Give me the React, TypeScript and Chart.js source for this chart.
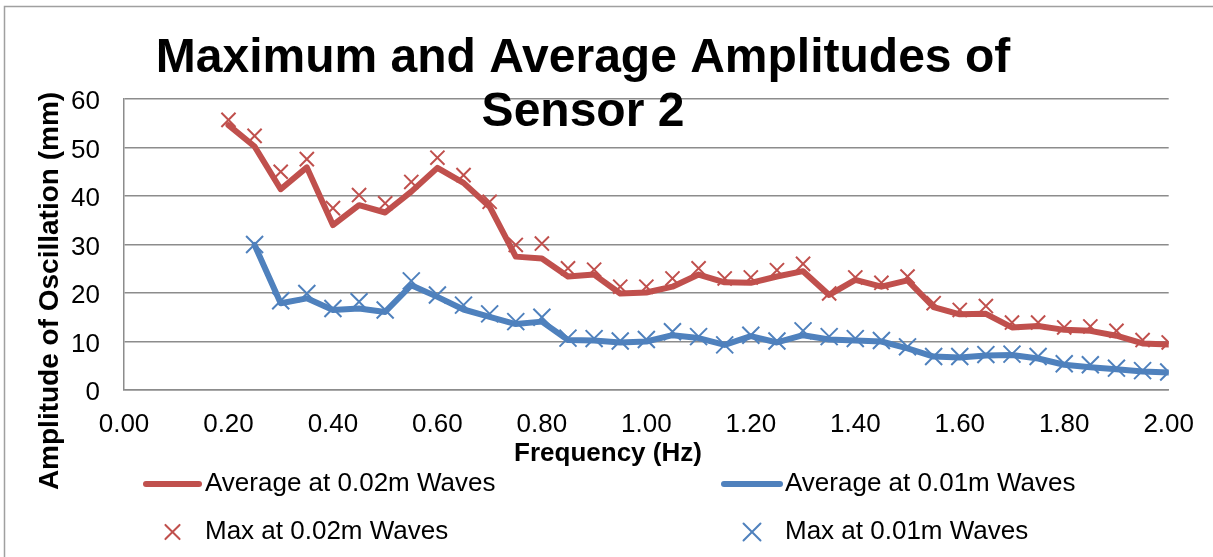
import React, { useEffect, useRef } from "react";
import { Chart, registerables } from "chart.js";

Chart.register(...registerables);

const FONT = "'Liberation Sans', Arial, Helvetica, sans-serif";

const titleLines = ["Maximum and Average Amplitudes of", "Sensor 2"];
const xTitle = "Frequency (Hz)";
const yTitle = "Amplitude of Oscillation (mm)";

const seriesNames = [
  "Average at 0.02m Waves",
  "Average at 0.01m Waves",
  "Max at 0.02m Waves",
  "Max at 0.01m Waves",
];

const freq002 = [
  0.2, 0.25, 0.3, 0.35, 0.4, 0.45, 0.5, 0.55, 0.6, 0.65, 0.7, 0.75, 0.8, 0.85,
  0.9, 0.95, 1.0, 1.05, 1.1, 1.15, 1.2, 1.25, 1.3, 1.35, 1.4, 1.45, 1.5, 1.55,
  1.6, 1.65, 1.7, 1.75, 1.8, 1.85, 1.9, 1.95, 2.0,
];
const avg002 = [
  54.6, 50.2, 41.4, 45.9, 34.0, 38.1, 36.6, 40.9, 45.8, 42.7, 37.8, 27.5, 27.1,
  23.4, 23.8, 19.9, 20.1, 21.3, 23.8, 22.2, 22.1, 23.4, 24.5, 19.6, 22.7, 21.3,
  22.6, 17.1, 15.6, 15.7, 12.9, 13.2, 12.4, 12.2, 11.2, 9.6, 9.4,
];
const max002 = [
  55.7, 52.4, 45.0, 47.6, 37.5, 40.2, 38.5, 42.9, 47.9, 44.3, 38.8, 29.9, 30.2,
  25.1, 24.8, 21.3, 21.3, 23.0, 25.1, 23.0, 23.2, 24.7, 26.0, 19.9, 23.2, 22.1,
  23.4, 17.9, 16.5, 17.3, 13.9, 13.9, 12.9, 13.1, 12.2, 10.3, 9.8,
];

const freq001 = [
  0.25, 0.3, 0.35, 0.4, 0.45, 0.5, 0.55, 0.6, 0.65, 0.7, 0.75, 0.8, 0.85, 0.9,
  0.95, 1.0, 1.05, 1.1, 1.15, 1.2, 1.25, 1.3, 1.35, 1.4, 1.45, 1.5, 1.55, 1.6,
  1.65, 1.7, 1.75, 1.8, 1.85, 1.9, 1.95, 2.0,
];
const avg001 = [
  29.9, 17.9, 18.9, 16.5, 16.8, 16.1, 21.6, 19.2, 16.6, 15.1, 13.6, 14.1, 10.3,
  10.2, 9.8, 10.0, 11.3, 10.7, 9.3, 11.1, 9.8, 11.3, 10.4, 10.2, 10.0, 8.6, 6.9,
  6.7, 7.1, 7.2, 6.5, 5.2, 4.7, 4.3, 3.8, 3.6,
];
const max001 = [
  30.0, 18.4, 19.9, 16.8, 18.2, 16.5, 22.5, 19.6, 17.5, 15.7, 14.1, 15.0, 10.7,
  10.6, 10.1, 10.4, 12.0, 11.0, 9.3, 11.3, 10.1, 12.2, 11.0, 10.6, 10.2, 8.9, 6.9,
  6.9, 7.3, 7.4, 6.9, 5.4, 5.2, 4.5, 4.0, 3.7,
];

const xTickValues = [0, 0.2, 0.4, 0.6, 0.8, 1.0, 1.2, 1.4, 1.6, 1.8, 2.0];

const RED = "#C0504D";
const BLUE = "#4F81BD";
const GRID = "#8c8c8c";

const toPoints = (xs: number[], ys: number[]) =>
  xs.map((x, i) => ({ x, y: ys[i] }));

// legend slot layout (positions in canvas px)
const legendSlots = [
  { x0: 146, x1: 199, tx: 205, y: 484 },
  { x0: 724, x1: 780, tx: 785, y: 484 },
  { x0: 146, x1: 199, tx: 205, y: 532 },
  { x0: 724, x1: 780, tx: 785, y: 532 },
];

const overlayPlugin = {
  id: "overlay",
  beforeDraw(chart: any) {
    const ctx = chart.ctx;
    ctx.save();
    ctx.fillStyle = "#ffffff";
    ctx.fillRect(0, 0, chart.width, chart.height);
    ctx.strokeStyle = "#a0a0a0";
    ctx.lineWidth = 1.5;
    ctx.strokeRect(4.5, 6.5, chart.width + 20, chart.height + 20);
    ctx.restore();
  },
  afterDraw(chart: any) {
    const ctx = chart.ctx;
    ctx.save();
    ctx.fillStyle = "#000";
    ctx.textAlign = "center";
    ctx.textBaseline = "alphabetic";
    ctx.font = `bold 48px ${FONT}`;
    titleLines.forEach((t, i) => ctx.fillText(t, 583, 72 + i * 54));

    ctx.font = `bold 26px ${FONT}`;
    ctx.textBaseline = "middle";
    ctx.fillText(xTitle, 608, 454);

    ctx.save();
    ctx.translate(50, 291);
    ctx.rotate(-Math.PI / 2);
    ctx.font = `bold 28px ${FONT}`;
    ctx.fillText(yTitle, 0, 0);
    ctx.restore();

    // legend
    ctx.font = `26px ${FONT}`;
    ctx.textAlign = "left";
    ctx.textBaseline = "middle";
    chart.data.datasets.forEach((ds: any, i: number) => {
      const s = legendSlots[i];
      if (!s) return;
      if (ds.showLine === false) {
        const cx = (s.x0 + s.x1) / 2;
        const r = ds.pointRadius * 0.7071;
        ctx.strokeStyle = ds.pointBorderColor;
        ctx.lineWidth = ds.pointBorderWidth;
        ctx.beginPath();
        ctx.moveTo(cx - r, s.y - r);
        ctx.lineTo(cx + r, s.y + r);
        ctx.moveTo(cx + r, s.y - r);
        ctx.lineTo(cx - r, s.y + r);
        ctx.stroke();
      } else {
        ctx.strokeStyle = ds.borderColor;
        ctx.lineWidth = ds.borderWidth;
        ctx.lineCap = "round";
        ctx.beginPath();
        ctx.moveTo(s.x0, s.y);
        ctx.lineTo(s.x1, s.y);
        ctx.stroke();
      }
      ctx.fillStyle = "#000";
      ctx.fillText(ds.label, s.tx, s.y);
    });
    ctx.restore();
  },
};

export default function App() {
  const ref = useRef<HTMLCanvasElement | null>(null);

  useEffect(() => {
    if (!ref.current) return;
    const chart = new Chart(ref.current, {
      type: "line",
      data: {
        datasets: [
          {
            label: seriesNames[0],
            data: toPoints(freq002, avg002),
            borderColor: RED,
            backgroundColor: RED,
            borderWidth: 6,
            pointRadius: 0,
            tension: 0,
            borderJoinStyle: "round",
            borderCapStyle: "round",
            order: 3,
          },
          {
            label: seriesNames[1],
            data: toPoints(freq001, avg001),
            borderColor: BLUE,
            backgroundColor: BLUE,
            borderWidth: 6,
            pointRadius: 0,
            tension: 0,
            borderJoinStyle: "round",
            borderCapStyle: "round",
            order: 4,
          },
          {
            label: seriesNames[2],
            data: toPoints(freq002, max002),
            showLine: false,
            pointStyle: "crossRot",
            pointRadius: 10,
            pointBorderWidth: 2,
            pointBorderColor: RED,
            pointBackgroundColor: RED,
            borderColor: RED,
            order: 1,
          },
          {
            label: seriesNames[3],
            data: toPoints(freq001, max001),
            showLine: false,
            pointStyle: "crossRot",
            pointRadius: 12,
            pointBorderWidth: 2,
            pointBorderColor: BLUE,
            pointBackgroundColor: BLUE,
            borderColor: BLUE,
            order: 2,
          },
        ] as any,
      },
      options: {
        animation: false,
        responsive: false,
        devicePixelRatio: 1,
        layout: { padding: { left: 0, top: 99, right: 38, bottom: 117 } },
        plugins: {
          legend: { display: false },
          title: { display: false },
          tooltip: { enabled: false },
        },
        scales: {
          x: {
            type: "linear",
            min: 0,
            max: 2,
            afterFit: (s: any) => {
              s.height = 50;
            },
            afterBuildTicks: (s: any) => {
              s.ticks = xTickValues.map((v) => ({ value: v }));
            },
            ticks: {
              padding: 19,
              color: "#000",
              font: { family: FONT, size: 26 },
              maxRotation: 0,
              minRotation: 0,
              autoSkip: false,
              callback: (v: any) => Number(v).toFixed(2),
            },
            grid: { display: false, drawTicks: false },
            border: { display: true, color: GRID, width: 1.5 },
          },
          y: {
            type: "linear",
            min: 0,
            max: 60,
            afterFit: (s: any) => {
              s.width = 124;
            },
            ticks: {
              stepSize: 10,
              padding: 24,
              labelOffset: 3,
              color: "#000",
              font: { family: FONT, size: 26 },
            },
            grid: { color: GRID, lineWidth: 1.5, drawTicks: false },
            border: { display: true, color: GRID, width: 1.5 },
          },
        },
      } as any,
      plugins: [overlayPlugin],
    });
    return () => chart.destroy();
  }, []);

  return (
    <div
      style={{
        position: "fixed",
        left: 0,
        top: 0,
        width: 1213,
        height: 557,
        background: "#fff",
      }}
    >
      <canvas
        ref={ref}
        width={1213}
        height={557}
        style={{ display: "block", width: 1213, height: 557 }}
      />
    </div>
  );
}
